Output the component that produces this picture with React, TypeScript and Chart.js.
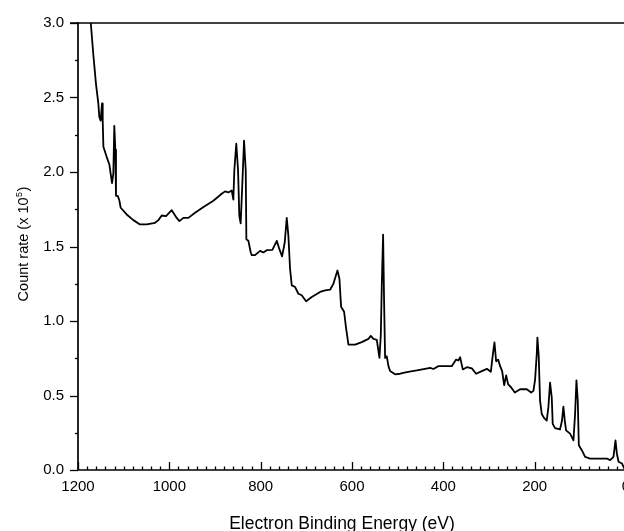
import React, { useEffect, useRef } from "react";
import { Chart, registerables } from "chart.js";

Chart.register(...registerables);

// Electron binding energy (eV) and count rate (x 10^5)
const energy = [
  1185, 1172, 1166.5, 1160.6, 1155.5, 1153.3, 1150.3, 1147.4, 1145.9, 1144.4,
  1137.1, 1131.3, 1125.5, 1122.6, 1120.5, 1118.3, 1116.8, 1113.0, 1109.5, 1106.5,
  1093.4, 1078.8, 1064.2, 1049.5, 1031.3, 1024.0, 1016.7, 1007.2, 1002.1, 994.8,
  983.8, 978.0, 969.3, 958.3, 943.7, 925.2, 903.6, 885.2, 878.0, 870.7,
  863.4, 859.8, 857.7, 853.4, 849.5, 846.7, 843.8, 840.7, 836.4, 832.7,
  831.3, 826.9, 821.7, 819.5, 812.3, 801.3, 794.1, 786.7, 774.4, 764.7,
  759.0, 753.1, 747.3, 742.9, 739.3, 735.6, 731.9, 724.6, 717.4, 710.1,
  700.6, 688.1, 669.9, 658.9, 648.0, 640.7, 631.9, 627.5, 623.9, 617.3,
  612.9, 607.8, 593.2, 578.5, 564.0, 558.8, 553.1, 545.7, 539.9, 536.9,
  534.7, 531.9, 529.7, 527.5, 523.8, 520.2, 516.6, 505.6, 494.6, 480.0,
  458.1, 440.0, 429.0, 421.7, 410.7, 381.6, 372.0, 366.9, 363.2, 357.4,
  348.6, 337.6, 328.2, 315.7, 304.7, 296.0, 291.6, 288.0, 284.4, 280.0,
  275.6, 271.2, 266.8, 262.4, 258.0, 252.2, 243.4, 231.8, 217.2, 207.7,
  202.7, 199.0, 195.3, 194.0, 191.1, 188.2, 184.5, 179.5, 173.6, 170.0,
  166.3, 162.6, 160.5, 155.4, 144.5, 140.1, 137.1, 134.1, 131.2, 122.4,
  115.1, 111.5, 108.5, 105.6, 103.3, 96.8, 89.5, 78.5, 56.6, 42.0,
  34.7, 27.4, 23.0, 20.0, 16.3, 8.9, 3.9, 0,
];

const countRate = [
  3.5, 3.0, 2.79, 2.59, 2.46, 2.37, 2.345, 2.46, 2.345, 2.17,
  2.10, 2.05, 1.925, 1.99, 2.31, 2.15, 1.84, 1.84, 1.81, 1.76,
  1.715, 1.677, 1.648, 1.648, 1.659, 1.677, 1.708, 1.704, 1.721, 1.744,
  1.692, 1.670, 1.692, 1.692, 1.726, 1.765, 1.807, 1.854, 1.870, 1.863,
  1.876, 1.814, 2.01, 2.19, 2.01, 1.704, 1.655, 1.88, 2.21, 2.01,
  1.548, 1.538, 1.46, 1.442, 1.442, 1.471, 1.46, 1.475, 1.478, 1.538,
  1.482, 1.434, 1.527, 1.692, 1.571, 1.349, 1.239, 1.228, 1.183, 1.173,
  1.133, 1.161, 1.195, 1.206, 1.21, 1.25, 1.339, 1.283, 1.095, 1.062,
  0.951, 0.841, 0.841, 0.858, 0.880, 0.900, 0.880, 0.874, 0.752, 0.907,
  1.25, 1.58, 1.128, 0.752, 0.763, 0.697, 0.664, 0.642, 0.646, 0.657,
  0.668, 0.679, 0.686, 0.678, 0.697, 0.697, 0.741, 0.735, 0.757, 0.675,
  0.69, 0.682, 0.646, 0.664, 0.679, 0.659, 0.775, 0.856, 0.73, 0.741,
  0.697, 0.664, 0.569, 0.635, 0.575, 0.557, 0.520, 0.542, 0.542, 0.520,
  0.531, 0.609, 0.785, 0.889, 0.763, 0.465, 0.376, 0.350, 0.332, 0.420,
  0.586, 0.486, 0.310, 0.281, 0.272, 0.332, 0.425, 0.332, 0.266, 0.244,
  0.199, 0.376, 0.602, 0.465, 0.166, 0.133, 0.088, 0.077, 0.077, 0.077,
  0.066, 0.088, 0.199, 0.111, 0.055, 0.044, 0.011, 0.0,
];

const xTickValues = [1200, 1000, 800, 600, 400, 200, 0];
const yTickValues = [0, 0.5, 1.0, 1.5, 2.0, 2.5, 3.0];

const xTitle = "Electron Binding Energy (eV)";
const yTitleMain = "Count rate (x 10";
const yTitleSup = "5";
const yTitleEnd = ")";

const FONT = "'Liberation Sans', Arial, Helvetica, sans-serif";

const axisPlugin = {
  id: "axisDecor",
  afterDraw(chart: any) {
    const { ctx, chartArea, scales } = chart;
    const xs = scales.x;
    const ys = scales.y;
    const { left, right, top, bottom } = chartArea;
    ctx.save();
    ctx.strokeStyle = "#000";
    ctx.lineCap = "butt";

    // axis frame lines
    ctx.lineWidth = 1.7;
    ctx.beginPath();
    ctx.moveTo(left, top - 1);
    ctx.lineTo(left, bottom);
    ctx.stroke();
    ctx.beginPath();
    ctx.moveTo(left, bottom);
    ctx.lineTo(right + 20, bottom);
    ctx.stroke();
    ctx.beginPath();
    ctx.moveTo(left - 8, top);
    ctx.lineTo(right + 20, top);
    ctx.stroke();

    // y ticks (outward)
    ctx.lineWidth = 1.3;
    for (let v = 0; v <= 3.0001; v += 0.25) {
      const py = Math.round(ys.getPixelForValue(v)) + 0.5;
      const major = Math.abs(v / 0.5 - Math.round(v / 0.5)) < 1e-6;
      ctx.beginPath();
      ctx.moveTo(left - (major ? 8 : 3), py);
      ctx.lineTo(left, py);
      ctx.stroke();
    }
    // x ticks (inward)
    for (let v = 0; v <= 1200; v += 20) {
      const px = Math.round(xs.getPixelForValue(v)) + 0.5;
      const major = v % 200 === 0;
      ctx.beginPath();
      ctx.moveTo(px, bottom);
      ctx.lineTo(px, bottom - (major ? 8 : 3.5));
      ctx.stroke();
    }

    // axis titles
    ctx.fillStyle = "#000";
    ctx.textBaseline = "alphabetic";
    ctx.font = `17.5px ${FONT}`;
    ctx.textAlign = "center";
    ctx.fillText(xTitle, 342, 529);

    ctx.translate(28, 244);
    ctx.rotate(-Math.PI / 2);
    const mainFont = `14.5px ${FONT}`;
    const supFont = `9px ${FONT}`;
    ctx.font = mainFont;
    const wMain = ctx.measureText(yTitleMain).width;
    const wEnd = ctx.measureText(yTitleEnd).width;
    ctx.font = supFont;
    const wSup = ctx.measureText(yTitleSup).width;
    const total = wMain + wSup + wEnd + 1;
    let x0 = -total / 2;
    ctx.textAlign = "left";
    ctx.font = mainFont;
    ctx.fillText(yTitleMain, x0, 0);
    x0 += wMain + 0.5;
    ctx.font = supFont;
    ctx.fillText(yTitleSup, x0, -6);
    x0 += wSup + 0.5;
    ctx.font = mainFont;
    ctx.fillText(yTitleEnd, x0, 0);
    ctx.restore();
  },
};

export default function App() {
  const canvasRef = useRef<HTMLCanvasElement | null>(null);

  useEffect(() => {
    const canvas = canvasRef.current;
    if (!canvas) return;
    const data = energy.map((e, i) => ({ x: e, y: countRate[i] }));
    const chart = new Chart(canvas, {
      type: "line",
      data: {
        datasets: [
          {
            data,
            borderColor: "#000",
            borderWidth: 1.8,
            borderJoinStyle: "round",
            pointRadius: 0,
            tension: 0,
            fill: false,
          },
        ],
      },
      options: {
        animation: false,
        responsive: false,
        devicePixelRatio: 1,
        layout: { padding: { left: 0, top: 18, right: 14, bottom: 0 } },
        plugins: {
          legend: { display: false },
          tooltip: { enabled: false },
        },
        scales: {
          x: {
            type: "linear",
            reverse: true,
            min: 0,
            max: 1200,
            grid: { display: false, drawTicks: false },
            border: { display: false },
            afterBuildTicks: (scale: any) => {
              scale.ticks = xTickValues.map((v) => ({ value: v }));
            },
            afterFit: (scale: any) => {
              scale.height = 61;
            },
            ticks: {
              color: "#000",
              padding: 8,
              maxRotation: 0,
              autoSkip: false,
              font: { family: FONT, size: 15 },
              callback: (v: any) => String(v),
            },
          },
          y: {
            type: "linear",
            min: 0,
            max: 3,
            grid: { display: false, drawTicks: false },
            border: { display: false },
            afterBuildTicks: (scale: any) => {
              scale.ticks = yTickValues.map((v) => ({ value: v }));
            },
            afterFit: (scale: any) => {
              scale.width = 78;
            },
            ticks: {
              color: "#000",
              padding: 14,
              autoSkip: false,
              font: { family: FONT, size: 15 },
              callback: (v: any) => Number(v).toFixed(1),
            },
          },
        },
      },
      plugins: [axisPlugin],
    });
    return () => chart.destroy();
  }, []);

  return (
    <div
      style={{
        position: "fixed",
        left: 0,
        top: 0,
        width: 624,
        height: 531,
        overflow: "hidden",
        background: "#fff",
      }}
    >
      <canvas ref={canvasRef} width={640} height={531} style={{ display: "block" }} />
    </div>
  );
}
